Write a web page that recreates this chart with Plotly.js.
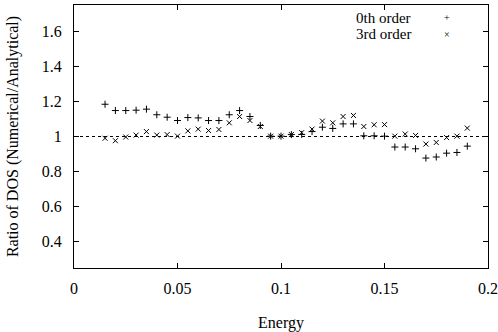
<!DOCTYPE html>
<html>
<head>
<meta charset="utf-8">
<script src="https://cdn.plot.ly/plotly-3.0.1.min.js"></script>
<style>html,body{margin:0;padding:0;background:#fff;}#chart{width:498px;height:332px;}</style>
</head>
<body>
<div id="chart"></div>
<script>
const energy = [0.015,0.020,0.025,0.030,0.035,0.040,0.045,0.050,0.055,0.060,0.065,0.070,0.075,0.080,0.085,0.090,0.095,0.100,0.105,0.110,0.115,0.120,0.125,0.130,0.135,0.140,0.145,0.150,0.155,0.160,0.165,0.170,0.175,0.180,0.185,0.190];
const order0 = [1.184,1.148,1.148,1.150,1.156,1.124,1.110,1.091,1.108,1.106,1.091,1.091,1.124,1.148,1.114,1.063,1.002,1.002,1.011,1.012,1.028,1.053,1.046,1.072,1.072,1.004,1.004,1.002,0.940,0.940,0.930,0.877,0.883,0.905,0.909,0.945];
const order3 = [0.990,0.976,0.997,1.008,1.028,1.008,1.011,1.002,1.032,1.042,1.034,1.040,1.078,1.114,1.091,1.057,1.002,1.002,1.011,1.022,1.042,1.088,1.078,1.114,1.120,1.057,1.067,1.068,1.002,1.014,1.006,0.957,0.966,0.994,1.002,1.048];
const seriesNames = ["0th order","3rd order"];
const legendSymbols = ["+","×"];
const xTitle = "Energy";
const yTitle = "Ratio of DOS (Numerical/Analytical)";

const FAMILY = "Times New Roman, Liberation Serif, Times, serif";
const font = {family: FAMILY, size: 16, color: "#000000"};
const legFont = {family: FAMILY, size: 15, color: "#000000"};
const symFont = {family: FAMILY, size: 10, color: "#000000"};

const traces = [
  {x: energy, y: order0, name: seriesNames[0], mode: "markers", type: "scatter",
   marker: {symbol: "cross-thin-open", size: 5, line: {width: 1, color: "#000"}, color: "#000"}},
  {x: energy, y: order3, name: seriesNames[1], mode: "markers", type: "scatter",
   marker: {symbol: "x-thin-open", size: 5, line: {width: 1, color: "#000"}, color: "#000"}}
];

const layout = {
  width: 498, height: 332,
  margin: {l: 74, r: 10, t: 5, b: 64},
  paper_bgcolor: "#fff", plot_bgcolor: "#fff",
  font: font,
  showlegend: false,
  xaxis: {
    range: [0, 0.2], tick0: 0, dtick: 0.05, ticks: "inside", ticklen: 5, tickcolor: "#000",
    mirror: "ticks", showline: true, linecolor: "#000", linewidth: 1,
    showgrid: false, zeroline: false, ticklabelstandoff: 6, tickfont: font,
    title: {text: xTitle, font: font, standoff: 20}, automargin: false
  },
  yaxis: {
    range: [0.25, 1.75], tick0: 0.4, dtick: 0.2, ticks: "inside", ticklen: 5, tickcolor: "#000",
    mirror: "ticks", showline: true, linecolor: "#000", linewidth: 1,
    showgrid: false, zeroline: false, ticklabelstandoff: 8, tickfont: font,
    title: {text: yTitle, font: font, standoff: 19}, automargin: false
  },
  shapes: [{type: "line", xref: "paper", yref: "y", x0: 0, x1: 1, y0: 1, y1: 1,
            line: {color: "#000", width: 1, dash: "dot"}}],
  annotations: [
    {xref: "paper", yref: "paper", x: 0.819, y: 0.951, xanchor: "right", yanchor: "middle", text: seriesNames[0], showarrow: false, font: legFont},
    {xref: "paper", yref: "paper", x: 0.819, y: 0.888, xanchor: "right", yanchor: "middle", text: seriesNames[1], showarrow: false, font: legFont},
    {xref: "paper", yref: "paper", x: 0.901, y: 0.951, xanchor: "center", yanchor: "middle", text: legendSymbols[0], showarrow: false, font: symFont},
    {xref: "paper", yref: "paper", x: 0.901, y: 0.888, xanchor: "center", yanchor: "middle", text: legendSymbols[1], showarrow: false, font: symFont}
  ]
};

Plotly.newPlot("chart", traces, layout, {displayModeBar: false, staticPlot: true});
</script>
</body>
</html>
